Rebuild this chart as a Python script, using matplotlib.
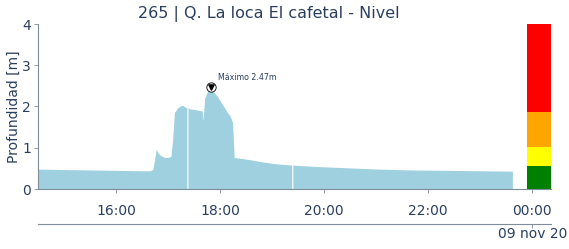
import matplotlib
matplotlib.use("Agg")
import matplotlib.pyplot as plt
import matplotlib.dates as mdates
import numpy as np
import pandas as pd

# ---- data ----
day = "2020-11-08 "
times = ["14:30:00", "15:00:00", "15:30:00", "16:00:00", "16:30:00", "16:40:00", "16:43:00", "16:45:00",
         "16:47:00", "16:49:00", "16:52:00", "16:56:00", "17:00:00", "17:04:00", "17:06:00", "17:08:00",
         "17:12:00", "17:15:00", "17:17:00", "17:20:00", "17:22:20", "17:23:00", "17:23:40", "17:26:00",
         "17:30:00", "17:35:00", "17:40:00", "17:41:00", "17:43:00", "17:46:00", "17:48:00", "17:50:00",
         "17:52:00", "17:54:00", "17:57:00", "18:00:00", "18:03:00", "18:07:00", "18:09:00", "18:11:00",
         "18:13:00", "18:15:00", "18:16:00", "18:17:00", "18:25:00", "18:35:00", "18:45:00", "19:01:00",
         "19:10:00", "19:23:20", "19:24:00", "19:24:40", "19:30:00", "19:55:00", "20:30:00", "21:04:00",
         "21:40:00", "22:22:00", "23:00:00", "23:38:00"]
depth = [0.47, 0.46, 0.45, 0.44, 0.43, 0.43, 0.46, 0.70,
         0.95, 0.87, 0.80, 0.76, 0.75, 0.78, 1.20, 1.84,
         1.96, 2.00, 2.02, 1.98, 1.95, np.nan, 1.96, 1.93,
         1.92, 1.90, 1.88, 1.64, 2.20, 2.35, 2.40, 2.45,
         2.38, 2.32, 2.25, 2.15, 2.05, 1.92, 1.84, 1.80,
         1.72, 1.60, 1.20, 0.75, 0.73, 0.70, 0.66, 0.61,
         0.59, 0.57, np.nan, 0.57, 0.56, 0.53, 0.50, 0.47,
         0.45, 0.44, 0.43, 0.42]
max_time = "17:50:00"
max_value = 2.47

level_tops = [0.56, 1.02, 1.87, 4.0]
level_colors = ["#008000", "#ffff00", "#ffa500", "#ff0000"]
level_bar_time = "2020-11-09 00:08:00"
level_bar_width_min = 28

xticks = ["2020-11-08 16:00:00", "2020-11-08 18:00:00", "2020-11-08 20:00:00",
          "2020-11-08 22:00:00", "2020-11-09 00:00:00"]
yticks = [0, 1, 2, 3, 4]
title = "265 | Q. La loca El cafetal - Nivel"
ylabel = "Profundidad [m]"
date_label = "09 nov 20"

# ---- plot ----
TXT = "#2a3f5f"
SP = "#7f8c9a"
plt.rcParams["font.family"] = ["DejaVu Sans"]

t = pd.to_datetime([day + s for s in times], format="%Y-%m-%d %H:%M:%S")
y = np.array(depth, dtype=float)

fig = plt.figure(figsize=(5.69, 2.49), dpi=100)
ax = fig.add_axes([38/569, 60/249, 513/569, 165/249])

ax.fill_between(t, 0, y, color="#9ed0df", linewidth=0)

# level bar
bx = mdates.date2num(pd.Timestamp(level_bar_time))
bw = level_bar_width_min / (24 * 60)
bottom = 0
for top, c in zip(level_tops, level_colors):
    ax.bar(bx, top - bottom, bottom=bottom, width=bw, color=c, linewidth=0)
    bottom = top

# maximum marker
mt = pd.Timestamp(day + max_time)
ax.scatter([mt], [max_value], s=45, facecolor="white", edgecolor="black", linewidth=0.6, zorder=5)
ax.scatter([mt], [max_value], s=14, marker="v", color="black", zorder=6)
ax.annotate(f"Máximo {max_value:.2f}m", (mt, max_value), xytext=(5, 5),
            textcoords="offset points", fontsize=5.7, color=TXT)

ax.set_xlim(pd.Timestamp(day + "14:30:00"), pd.Timestamp("2020-11-09 00:22:00"))
ax.set_ylim(0, 4)
ax.set_xticks(pd.to_datetime(xticks))
ax.xaxis.set_major_formatter(mdates.DateFormatter("%H:%M"))
ax.set_yticks(yticks)

for s in ["top", "right"]:
    ax.spines[s].set_visible(False)
for s in ["left", "bottom"]:
    ax.spines[s].set_color(SP)
    ax.spines[s].set_linewidth(0.8)
ax.tick_params(axis="x", length=3, width=0.6, color=SP, labelcolor=TXT, labelsize=10, pad=8)
ax.tick_params(axis="y", length=3, width=0.6, color=SP, labelcolor=TXT, labelsize=10, pad=2)
ax.set_ylabel(ylabel, color=TXT, fontsize=10, labelpad=1)
ax.set_title(title, color=TXT, fontsize=11.5, x=0.45, pad=4)

sec = ax.secondary_xaxis("bottom")
sec.spines["bottom"].set_position(("outward", 25))
sec.spines["bottom"].set_color(SP)
sec.spines["bottom"].set_linewidth(0.8)
sec.set_xticks([pd.Timestamp("2020-11-09 00:00:00")])
sec.set_xticklabels([""])
sec.tick_params(length=3, width=0.6, color=SP)
fig.text(498/569, 1 - 234/249, date_label, ha="left", va="center", color=TXT, fontsize=10)

fig.savefig("out.png", dpi=100)
